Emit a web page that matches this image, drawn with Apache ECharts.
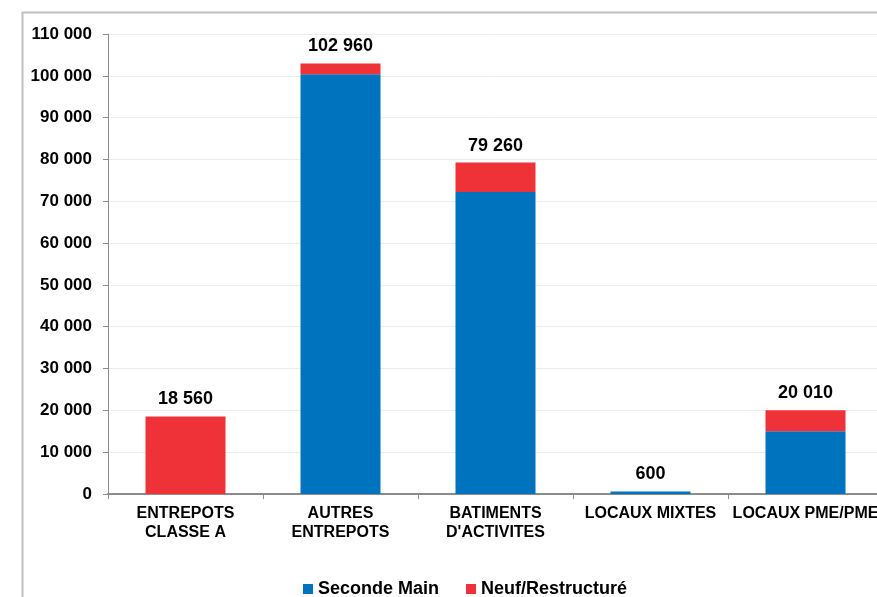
<!DOCTYPE html>
<html>
<head>
<meta charset="utf-8">
<script src="https://cdn.jsdelivr.net/npm/echarts@6/dist/echarts.min.js"></script>
<style>
html,body{margin:0;padding:0;overflow:hidden;background:#fff;}
#c{width:900px;height:597px;}
</style>
</head>
<body>
<div id="c"></div>
<script>
const categories = ['ENTREPOTS\nCLASSE A', 'AUTRES\nENTREPOTS', 'BATIMENTS\nD\'ACTIVITES', 'LOCAUX MIXTES', 'LOCAUX PME/PME'];
const secondeMain = [0, 100400, 72200, 600, 15000];
const neufRestructure = [18560, 2560, 7060, 0, 5010];
const totals = [18560, 102960, 79260, 600, 20010];
const yTicks = {min: 0, max: 110000, interval: 10000};

function fmt(v) { return String(v).replace(/\B(?=(\d{3})+(?!\d))/g, ' '); }

const chart = echarts.init(document.getElementById('c'));
const font = 'Liberation Sans, Arial, sans-serif';
chart.setOption({
  animation: false,
  textStyle: {fontFamily: font},
  graphic: [{
    type: 'rect', left: 20, top: 10, silent: true,
    shape: {x: 0, y: 0, width: 1000, height: 1000},
    style: {fill: 'none', stroke: '#c0c0c0', lineWidth: 2}
  }],
  grid: {left: 108, right: 17, top: 34, bottom: 103},
  legend: {
    left: 298, top: 575, icon: 'rect', itemWidth: 10, itemHeight: 10, itemGap: 27,
    textStyle: {fontFamily: font, fontWeight: 'bold', fontSize: 18, color: '#000'},
    data: ['Seconde Main', 'Neuf/Restructuré']
  },
  xAxis: {
    type: 'category', data: categories,
    axisLine: {lineStyle: {color: '#8c8c8c', width: 2}},
    axisTick: {show: true, length: 5, lineStyle: {color: '#8c8c8c'}},
    axisLabel: {interval: 0, color: '#000', fontWeight: 'bold', fontSize: 16, lineHeight: 19, margin: 10, fontFamily: font}
  },
  yAxis: {
    type: 'value', min: yTicks.min, max: yTicks.max, interval: yTicks.interval,
    axisLine: {show: true, lineStyle: {color: '#8c8c8c', width: 1}},
    axisTick: {show: true, length: 5, lineStyle: {color: '#8c8c8c'}},
    splitLine: {lineStyle: {color: '#ececec'}},
    axisLabel: {color: '#000', fontWeight: 'bold', fontSize: 17, margin: 16, fontFamily: font, formatter: fmt}
  },
  series: [
    {name: 'Seconde Main', type: 'bar', stack: 's', data: secondeMain, barWidth: 80,
     itemStyle: {color: '#0073bf'}},
    {name: 'Neuf/Restructuré', type: 'bar', stack: 's', data: neufRestructure, barWidth: 80,
     itemStyle: {color: '#ef3237'},
     label: {show: true, position: 'top', distance: 8, color: '#000', fontWeight: 'bold', fontSize: 18, fontFamily: font,
       formatter: p => fmt(totals[p.dataIndex])}}
  ]
});
</script>
</body>
</html>
